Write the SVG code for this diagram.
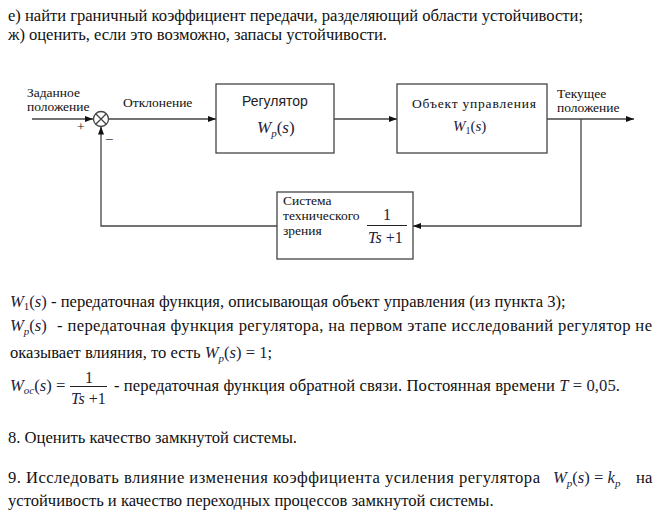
<svg xmlns="http://www.w3.org/2000/svg" width="664" height="521" viewBox="0 0 664 521">
<style>
.t{font-family:"Liberation Serif","Times New Roman",serif;font-size:16.6px;fill:#111}
.d{font-family:"Liberation Serif","Times New Roman",serif;font-size:13.5px;fill:#111}
.s{font-family:"Liberation Sans",Arial,sans-serif;font-size:14px;fill:#222}
.m{font-family:"Liberation Serif","Times New Roman",serif;font-style:italic;fill:#22223a}
.n{font-family:"Liberation Serif","Times New Roman",serif;fill:#22223a}
.box{fill:#fff;stroke:#444;stroke-width:1.3}
.ln{fill:none;stroke:#444;stroke-width:1.3}
</style>
<defs>
<marker id="ah" markerWidth="8" markerHeight="6" refX="8" refY="3" orient="auto" markerUnits="userSpaceOnUse">
<path d="M0,0 L8,3 L0,6 Z" fill="#111"/>
</marker>
</defs>
<rect width="664" height="521" fill="#fff"/>

<text class="t" x="8" y="21" textLength="575" lengthAdjust="spacing">е) найти граничный коэффициент передачи, разделяющий области устойчивости;</text>
<text class="t" x="8" y="40" textLength="379" lengthAdjust="spacing">ж) оценить, если это возможно, запасы устойчивости.</text>

<g id="connectors">
<path class="ln" d="M32 119 H93" marker-end="url(#ah)"/>
<path class="ln" d="M108.5 119 H216" marker-end="url(#ah)"/>
<path class="ln" d="M334 119 H397" marker-end="url(#ah)"/>
<path class="ln" d="M547 119 H634" marker-end="url(#ah)"/>
<path class="ln" d="M581 119 V226 H413" marker-end="url(#ah)"/>
<path class="ln" d="M277 226 H101 V126.5" marker-end="url(#ah)"/>
</g>

<g id="sum">
<circle cx="101" cy="119" r="7.5" class="box"/>
<path class="ln" d="M95.7 113.7 L106.3 124.3 M106.3 113.7 L95.7 124.3"/>
<text class="d" x="77" y="131">+</text>
<text class="d" x="106" y="142">–</text>
</g>

<g id="input-label">
<text class="d" x="27" y="97">Заданное</text>
<text class="d" x="27" y="111">положение</text>
</g>
<g id="error-label">
<text class="d" x="123" y="107" font-size="14">Отклонение</text>
</g>

<g id="regulator">
<rect class="box" x="216" y="84" width="118" height="69"/>
<text class="s" x="242" y="106">Регулятор</text>
<text x="257" y="133"><tspan class="m" font-size="17">W</tspan><tspan class="m" font-size="11" dy="4">p</tspan><tspan class="n" font-size="17" dy="-4">(</tspan><tspan class="m" font-size="17">s</tspan><tspan class="n" font-size="17">)</tspan></text>
</g>

<g id="plant">
<rect class="box" x="397" y="84" width="150" height="69"/>
<text class="d" x="412" y="108" font-size="15.2" textLength="124" lengthAdjust="spacing">Объект управления</text>
<text x="453" y="131"><tspan class="m" font-size="15">W</tspan><tspan class="n" font-size="10" dy="3">1</tspan><tspan class="n" font-size="15" dy="-3">(</tspan><tspan class="m" font-size="15">s</tspan><tspan class="n" font-size="15">)</tspan></text>
</g>

<g id="output-label">
<text class="d" x="557" y="98">Текущее</text>
<text class="d" x="557" y="112">положение</text>
</g>

<g id="vision">
<rect class="box" x="277" y="192" width="136" height="67"/>
<text class="d" x="283" y="205">Система</text>
<text class="d" x="283" y="220">технического</text>
<text class="d" x="283" y="235">зрения</text>
<text class="n" x="387" y="220" font-size="16" text-anchor="middle">1</text>
<line x1="367" y1="225.5" x2="407" y2="225.5" stroke="#222" stroke-width="1"/>
<text x="368" y="243" font-size="16"><tspan class="m">Ts</tspan><tspan class="n"> +1</tspan></text>
</g>

<text class="t" x="10" y="307"><tspan class="m">W</tspan><tspan class="n" font-size="11" dy="3">1</tspan><tspan class="n" dy="-3">(</tspan><tspan class="m">s</tspan><tspan class="n">)</tspan> - передаточная функция, описывающая объект управления (из пункта 3);</text>

<text class="t" x="10" y="331"><tspan class="m">W</tspan><tspan class="m" font-size="11" dy="4">p</tspan><tspan class="n" dy="-4">(</tspan><tspan class="m">s</tspan><tspan class="n">)</tspan></text>
<text class="t" x="57" y="331" textLength="595" lengthAdjust="spacing">- передаточная функция регулятора, на первом этапе исследований регулятор не</text>
<text class="t" x="10" y="358">оказывает влияния, то есть <tspan class="m">W</tspan><tspan class="m" font-size="11" dy="4">p</tspan><tspan class="n" dy="-4">(</tspan><tspan class="m">s</tspan><tspan class="n">) = 1</tspan>;</text>

<text class="t" x="10" y="391"><tspan class="m">W</tspan><tspan class="m" font-size="11" dy="3">oc</tspan><tspan class="n" dy="-3">(</tspan><tspan class="m">s</tspan><tspan class="n">) =</tspan></text>
<text class="n" x="89" y="383" font-size="16" text-anchor="middle">1</text>
<line x1="70" y1="386.5" x2="107" y2="386.5" stroke="#222" stroke-width="1"/>
<text x="71" y="404" font-size="16"><tspan class="m">Ts</tspan><tspan class="n"> +1</tspan></text>
<text class="t" x="114" y="391" textLength="506" lengthAdjust="spacing">- передаточная функция обратной связи. Постоянная времени <tspan class="m">T</tspan><tspan class="n"> = 0,05</tspan>.</text>

<text class="t" x="8" y="443">8. Оценить качество замкнутой системы.</text>
<text class="t" x="8" y="483" textLength="532" lengthAdjust="spacing">9. Исследовать влияние изменения коэффициента усиления регулятора</text>
<text class="t" x="553" y="483"><tspan class="m">W</tspan><tspan class="m" font-size="11" dy="4">p</tspan><tspan class="n" dy="-4">(</tspan><tspan class="m">s</tspan><tspan class="n">) = </tspan><tspan class="m">k</tspan><tspan class="m" font-size="11" dy="4">p</tspan></text>
<text class="t" x="636" y="483">на</text>
<text class="t" x="8" y="506">устойчивость и качество переходных процессов замкнутой системы.</text>
</svg>
